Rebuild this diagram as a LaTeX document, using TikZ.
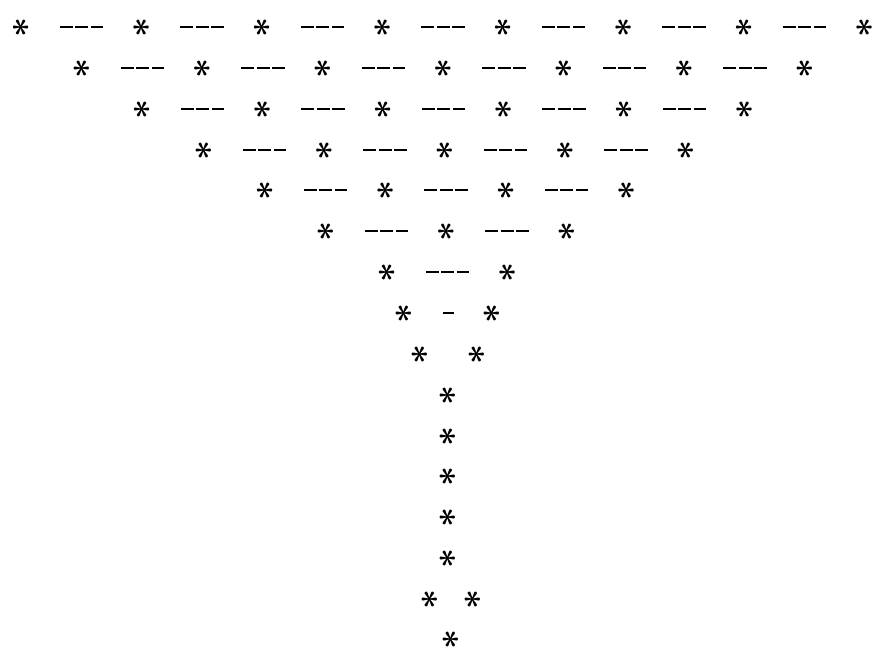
\documentclass[tikz,border=0pt]{standalone}
\usepackage{amsmath,amssymb}
\usepackage{tikz}
\usetikzlibrary{positioning}
\tikzset{
  astnode/.style={inner sep=-1.5pt, rotate=90, scale=1.4, font=\Huge\boldmath},
  dashlink/.style={line width=2pt, dash pattern=on 13pt off 2.5pt,
    shorten >=38.5pt, shorten <=38.5pt},
}

\begin{document}
\begin{tikzpicture}[x=1pt, y=-1pt]
  \useasboundingbox (0,0) rectangle (875,647);
  % ── Upper rows: asterisks joined by dashes ──
  \foreach \r/\n/\c in {1/8/443, 2/7/443.5, 3/6/443.5, 4/5/445, 5/4/446, 6/3/446.5, 7/2/447.5} {
    \foreach \i in {1,...,\n}
      \node[astnode] (s\r-\i) at ({\c+(\i-(\n+1)/2)*120.5}, {round(27+(\r-1)*40.85)}) {$\ast$};
    \pgfmathtruncatemacro{\m}{\n-1}
    \foreach \i [evaluate=\i as \j using int(\i+1)] in {1,...,\m}
      \draw[dashlink] (s\r-\i.center) -- (s\r-\j.center);
  }
  %
  % ── Narrow rows ──
  \node[astnode] (s8-1) at (404,313) {$\ast$};
  \node[astnode] (s8-2) at (492,313) {$\ast$};
  \draw[dashlink] (s8-1.center) -- (s8-2.center);
  \node[astnode] (s9-1) at (420,354) {$\ast$};
  \node[astnode] (s9-2) at (477,354) {$\ast$};
  %
  % ── Stem ──
  \foreach \r in {10,...,14}
    \node[astnode] (s\r-1) at (448, {round(27+(\r-1)*40.85)}) {$\ast$};
  \node[astnode] (s15-1) at (430,599) {$\ast$};
  \node[astnode] (s15-2) at (473,599) {$\ast$};
  \node[astnode] (s16-1) at (451,639) {$\ast$};
\end{tikzpicture}
\end{document}
